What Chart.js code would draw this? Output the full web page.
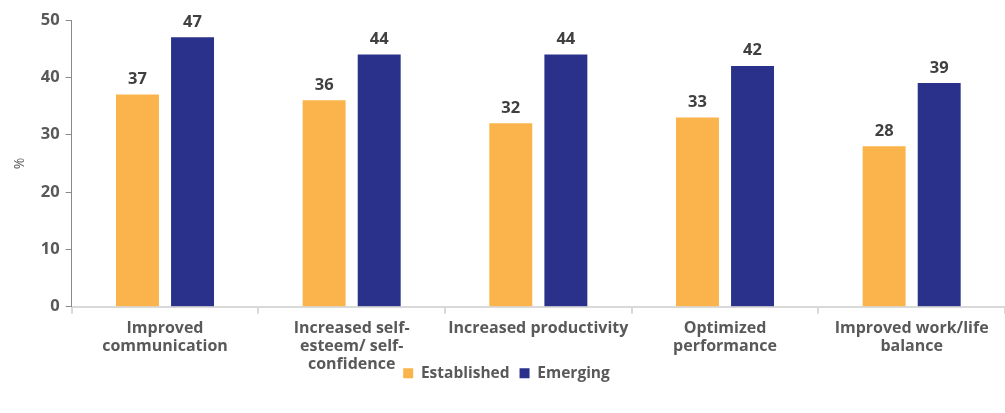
<!DOCTYPE html>
<html>
<head>
<meta charset="utf-8">
<script src="https://cdn.jsdelivr.net/npm/chart.js@4/dist/chart.umd.min.js"></script>
<style>
  html, body { margin: 0; padding: 0; background: #fff; }
  #wrap { width: 1005px; height: 413px; }
</style>
</head>
<body>
<div id="wrap"><canvas id="benefits-chart" width="1005" height="413"></canvas></div>
<script>
const categories = [
    ['Improved', 'communication'],
    ['Increased self-', 'esteem/ self-', 'confidence'],
    'Increased productivity',
    ['Optimized', 'performance'],
    ['Improved work/life', 'balance']
];
const established = [37, 36, 32, 33, 28];
const emerging = [47, 44, 44, 42, 39];
const yTicks = [0, 10, 20, 30, 40, 50];

const textColor = '#595959';
const fontFamily = '"Open Sans", Lato, sans-serif';

// Value labels above each bar
const barValueLabels = {
    id: 'barValueLabels',
    afterDatasetsDraw(chart) {
        const ctx = chart.ctx;
        ctx.save();
        ctx.font = 'bold 16.5px ' + fontFamily;
        ctx.fillStyle = '#404040';
        ctx.textAlign = 'center';
        ctx.textBaseline = 'bottom';
        chart.data.datasets.forEach((ds, i) => {
            chart.getDatasetMeta(i).data.forEach((bar, j) => {
                ctx.fillText(ds.data[j], bar.x, bar.y - 7);
            });
        });
        ctx.restore();
    }
};

// Tuck the legend up beside the last line of the wrapped category labels
const legendLift = {
    id: 'legendLift',
    afterLayout(chart) {
        const legend = chart.legend;
        const lift = 22;
        legend.top -= lift;
        legend.bottom -= lift;
        legend.legendHitBoxes.forEach(box => { box.top -= lift; });
    }
};

const chart = new Chart(document.getElementById('benefits-chart'), {
    type: 'bar',
    data: {
        labels: categories,
        datasets: [{
            label: 'Established',
            data: established,
            backgroundColor: '#FBB44B',
            categoryPercentage: 0.59,
            barPercentage: 0.78
        }, {
            label: 'Emerging',
            data: emerging,
            backgroundColor: '#29318A',
            categoryPercentage: 0.59,
            barPercentage: 0.78
        }]
    },
    options: {
        responsive: false,
        animation: false,
        layout: {
            padding: { top: 20, right: 0, left: 8, bottom: 0 }
        },
        plugins: {
            legend: {
                position: 'bottom',
                labels: {
                    boxWidth: 10,
                    boxHeight: 10,
                    padding: 10,
                    color: textColor,
                    font: { family: fontFamily, size: 15.5, weight: 'bold' }
                }
            },
            tooltip: { enabled: false }
        },
        scales: {
            x: {
                afterFit: axis => { axis.height -= 2; },
                grid: {
                    offset: true,
                    drawOnChartArea: false,
                    color: '#d9d9d9',
                    tickLength: 7,
                    lineWidth: 2
                },
                border: { color: '#d9d9d9', width: 2 },
                ticks: {
                    color: textColor,
                    maxRotation: 0,
                    autoSkip: false,
                    padding: 6,
                    font: { family: fontFamily, size: 16, weight: 'bold', lineHeight: 1.12 }
                }
            },
            y: {
                min: 0,
                max: 50,
                afterBuildTicks: axis => {
                    axis.ticks = yTicks.map(v => ({ value: v }));
                },
                grid: {
                    drawOnChartArea: false,
                    color: '#898989',
                    tickLength: 6
                },
                border: { color: '#898989', width: 1 },
                ticks: {
                    color: textColor,
                    padding: 6,
                    font: { family: fontFamily, size: 16.5, weight: 'bold' }
                },
                title: {
                    display: true,
                    text: '%',
                    color: textColor,
                    padding: { bottom: 6 },
                    font: { family: fontFamily, size: 14 }
                }
            }
        }
    },
    plugins: [barValueLabels, legendLift]
});
</script>
</body>
</html>
